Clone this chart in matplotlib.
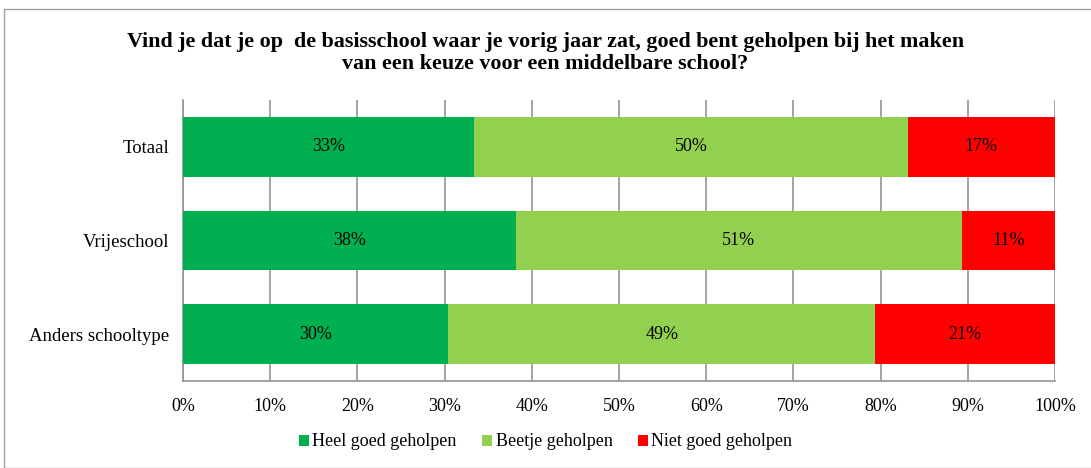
import matplotlib.pyplot as plt
from matplotlib.patches import Rectangle

categorieen = ['Totaal', 'Vrijeschool', 'Anders schooltype']
heel_goed = [33.4, 38.2, 30.4]
beetje = [49.7, 51.1, 49.0]
niet_goed = [16.9, 10.7, 20.6]
labels_heel = ['33%', '38%', '30%']
labels_beetje = ['50%', '51%', '49%']
labels_niet = ['17%', '11%', '21%']
reeksen = ['Heel goed geholpen', 'Beetje geholpen', 'Niet goed geholpen']
kleuren = ['#00B050', '#92D050', '#FF0000']
ticks = [0, 10, 20, 30, 40, 50, 60, 70, 80, 90, 100]

plt.rcParams['font.family'] = ['Liberation Serif', 'DejaVu Serif']

fig = plt.figure(figsize=(10.91, 4.68), dpi=100)
ax = fig.add_axes([183 / 1091, 1 - 381 / 468, 872 / 1091, 281 / 468])

y = list(range(len(categorieen)))
links = [0] * len(y)
for waarden, teksten, kleur, naam in zip([heel_goed, beetje, niet_goed],
                                         [labels_heel, labels_beetje, labels_niet],
                                         kleuren, reeksen):
    bars = ax.barh(y, waarden, left=links, height=0.64, color=kleur, label=naam, zorder=3)
    ax.bar_label(bars, labels=teksten, label_type='center', fontsize=13, color='black')
    links = [l + w for l, w in zip(links, waarden)]

ax.set_ylim(2.5, -0.5)
ax.set_xlim(0, 100)
ax.set_yticks(y)
ax.set_yticklabels(categorieen, fontsize=13.5)
ax.set_xticks(ticks)
ax.set_xticklabels([f'{t}%' for t in ticks], fontsize=13)
ax.tick_params(axis='y', length=0, pad=10)
ax.tick_params(axis='x', length=0, pad=12)
ax.grid(axis='x', color='#959595', linewidth=1.2, zorder=0)
for s in ['top', 'right']:
    ax.spines[s].set_visible(False)
for s in ['left', 'bottom']:
    ax.spines[s].set_color('#959595')
    ax.spines[s].set_linewidth(1.2)

fig.text(0.5, 1 - 42 / 468, 'Vind je dat je op  de basisschool waar je vorig jaar zat, goed bent geholpen bij het maken',
         ha='center', va='center', fontsize=15.8, fontweight='bold')
fig.text(0.5, 1 - 64 / 468, 'van een keuze voor een middelbare school?',
         ha='center', va='center', fontsize=15.8, fontweight='bold')

fig.legend(loc='center', bbox_to_anchor=(0.5, 1 - 442 / 468), ncol=3, frameon=False,
           fontsize=13, handlelength=0.55, handleheight=0.55, handletextpad=0.2,
           columnspacing=1.4)

fig.patches.append(Rectangle((4 / 1091, 0), 1.2, 1 - 9 / 468, transform=fig.transFigure,
                             fill=False, edgecolor='#A0A0A0', linewidth=1))

fig.savefig('out.png', dpi=100)
